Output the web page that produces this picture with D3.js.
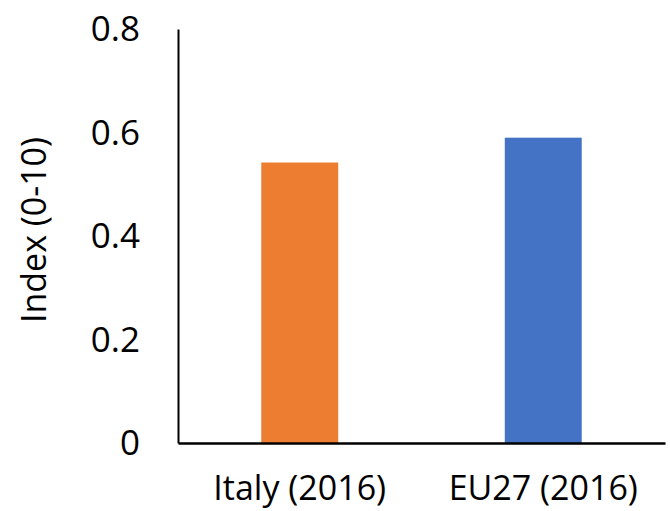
<!DOCTYPE html>
<html><head><meta charset="utf-8">
<script src="https://cdn.jsdelivr.net/npm/d3@7"></script>
<style>body{margin:0;background:#fff}svg{display:block}text{font-family:"Open Sans",sans-serif;fill:#000}</style>
</head><body>
<svg id="c" width="670" height="511"></svg>
<script>
const categories = ["Italy (2016)", "EU27 (2016)"];
const values = [0.542, 0.59];
const colors = ["#ED7D31", "#4472C4"];
const yTicks = [0, 0.2, 0.4, 0.6, 0.8];
const yTickLabels = ["0", "0.2", "0.4", "0.6", "0.8"];
const yTitle = "Index (0-10)";

const svg = d3.select("#c");
const m = {left:178, right:665, top:29, bottom:443};
const x = d3.scaleBand().domain(categories).range([m.left, m.right]).paddingInner(0.684).paddingOuter(0.342);
const y = d3.scaleLinear().domain([0, 0.8]).range([m.bottom, m.top]);

svg.selectAll("rect.bar").data(categories).join("rect")
  .attr("class","bar")
  .attr("x", d => x(d)).attr("width", x.bandwidth())
  .attr("y", (d,i) => y(values[i])).attr("height", (d,i) => y(0) - y(values[i]))
  .attr("fill", (d,i) => colors[i]);

// y axis
const ya = svg.append("g").attr("transform", `translate(${m.left},0)`)
  .call(d3.axisLeft(y).tickValues(yTicks).tickFormat((d,i)=>yTickLabels[i]).tickSize(0).tickPadding(38));
ya.select(".domain").attr("stroke","#000").attr("stroke-width",2);
ya.selectAll("text").style("font-size","35px").style("font-family","'Open Sans',sans-serif").attr("dy","0.33em");

// x axis
const xa = svg.append("g").attr("transform", `translate(0,${m.bottom})`)
  .call(d3.axisBottom(x).tickSize(0).tickPadding(33));
xa.select(".domain").attr("stroke","#000").attr("stroke-width",2.5);
xa.selectAll("text").style("font-size","34px").style("font-family","'Open Sans',sans-serif");

svg.append("text").attr("transform","translate(34,230) rotate(-90)")
  .attr("text-anchor","middle").attr("dy","0.35em")
  .style("font-size","34px").text(yTitle);
</script>
</body></html>
